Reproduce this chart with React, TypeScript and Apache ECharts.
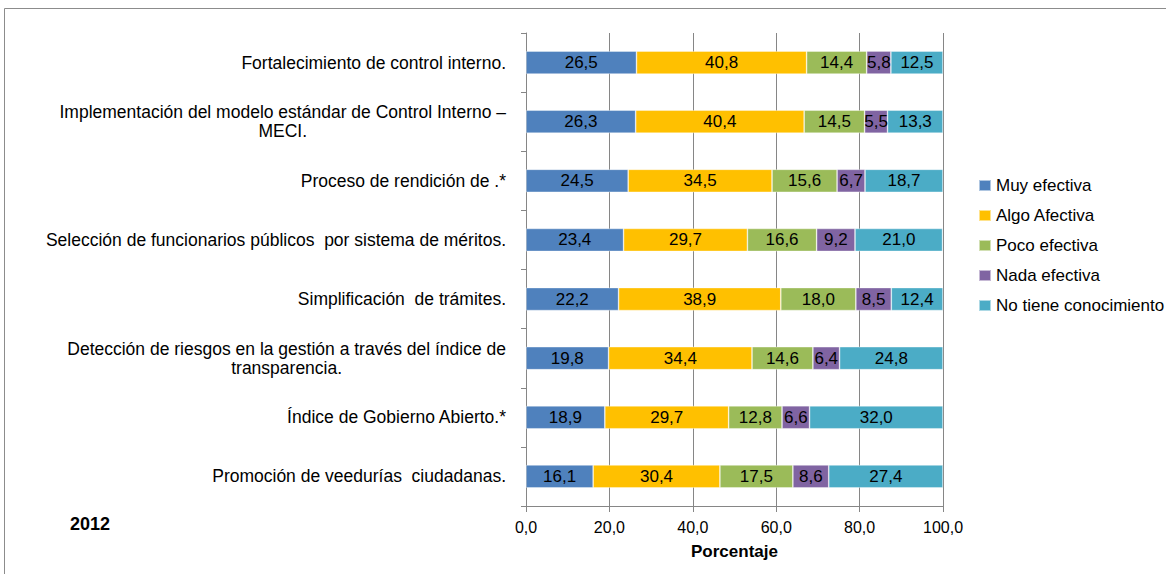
import React, { useEffect, useRef } from "react";
import * as echarts from "echarts";

const categories = [
  "Fortalecimiento de control interno.",
  "Implementación del modelo estándar de Control Interno –\nMECI.",
  "Proceso de rendición de .*",
  "Selección de funcionarios públicos  por sistema de méritos.",
  "Simplificación  de trámites.",
  "Detección de riesgos en la gestión a través del índice de\ntransparencia.",
  "Índice de Gobierno Abierto.*",
  "Promoción de veedurías  ciudadanas.",
];

const seriesNames = [
  "Muy efectiva",
  "Algo Afectiva",
  "Poco efectiva",
  "Nada efectiva",
  "No tiene conocimiento",
];

const muyEfectiva = [26.5, 26.3, 24.5, 23.4, 22.2, 19.8, 18.9, 16.1];
const algoAfectiva = [40.8, 40.4, 34.5, 29.7, 38.9, 34.4, 29.7, 30.4];
const pocoEfectiva = [14.4, 14.5, 15.6, 16.6, 18.0, 14.6, 12.8, 17.5];
const nadaEfectiva = [5.8, 5.5, 6.7, 9.2, 8.5, 6.4, 6.6, 8.6];
const noConocimiento = [12.5, 13.3, 18.7, 21.0, 12.4, 24.8, 32.0, 27.4];

const seriesValues = [muyEfectiva, algoAfectiva, pocoEfectiva, nadaEfectiva, noConocimiento];
const colors = ["#4F81BD", "#FFC000", "#9BBB59", "#8064A2", "#4BACC6"];

const FONT = "Liberation Sans, Arial, sans-serif";
const CAT_SIZE = 17.5;

const fmt = (v: number) => v.toFixed(1).replace(".", ",");

export default function App() {
  const ref = useRef<HTMLDivElement>(null);
  useEffect(() => {
    if (!ref.current) return;
    const chart = echarts.init(ref.current, undefined, { renderer: "svg" });
    const option: any = {
      animation: false,
      backgroundColor: "#ffffff",
      textStyle: { fontFamily: FONT },
      graphic: [
        {
          type: "rect",
          shape: { x: 4.5, y: 8.5, width: 1300, height: 700 },
          style: { fill: "none", stroke: "#8c8c8c", lineWidth: 1 },
          silent: true,
        },
        {
          type: "text",
          left: -1,
          top: -14,
          style: { text: "Fuente: DANE. EDID 2011", fontSize: 17, fontFamily: FONT, fill: "#000" },
        },
        {
          type: "text",
          left: 70,
          top: 515,
          style: { text: "2012", fontSize: 18, fontWeight: "bold", fontFamily: FONT, fill: "#000" },
        },
      ],
      legend: {
        orient: "vertical",
        left: 978,
        top: 177,
        padding: 0,
        itemWidth: 12,
        itemHeight: 11,
        itemGap: 13,
        icon: "rect",
        textStyle: { fontSize: 17, color: "#000", fontFamily: FONT },
        data: seriesNames,
      },
      grid: { left: 526, right: 223, top: 33, bottom: 68, containLabel: false },
      xAxis: {
        type: "value",
        min: 0,
        max: 100,
        interval: 20,
        name: "Porcentaje",
        nameLocation: "middle",
        nameGap: 37,
        nameTextStyle: { fontSize: 17, fontWeight: "bold", color: "#000", fontFamily: FONT },
        axisLine: { show: true, lineStyle: { color: "#868686" } },
        axisTick: { show: true, length: 6, lineStyle: { color: "#868686" } },
        splitLine: { show: true, lineStyle: { color: "#868686", width: 1 } },
        axisLabel: { formatter: fmt, fontSize: 16, color: "#000", margin: 13, fontFamily: FONT },
      },
      yAxis: {
        type: "category",
        inverse: true,
        data: categories,
        axisLine: { show: true, lineStyle: { color: "#868686" } },
        axisTick: { show: true, length: 5, alignWithLabel: false, lineStyle: { color: "#868686" } },
        axisLabel: {
          fontSize: CAT_SIZE,
          color: "#000",
          margin: 20,
          lineHeight: 19,
          fontFamily: FONT,
          formatter: (v: string) =>
            v.includes("\n")
              ? v
                  .split("\n")
                  .map((l) => `{c|${l}}`)
                  .join("\n")
              : v,
          rich: {
            c: {
              align: "center",
              fontSize: CAT_SIZE,
              lineHeight: 19,
              color: "#000",
              fontFamily: FONT,
            },
          },
        },
      },
      series: seriesNames.map((name, i) => ({
        name,
        type: "bar",
        stack: "total",
        barWidth: 23,
        data: seriesValues[i],
        itemStyle: { color: colors[i], borderColor: "rgba(255,255,255,0.55)", borderWidth: 0.7 },
        label: {
          show: true,
          position: "inside",
          color: "#000",
          fontSize: 17,
          fontFamily: FONT,
          formatter: (p: any) => fmt(p.value),
        },
      })),
    };
    chart.setOption(option);
    return () => chart.dispose();
  }, []);
  return (
    <div
      ref={ref}
      style={{ position: "fixed", left: 0, top: 0, width: 1166, height: 574, background: "#fff" }}
    />
  );
}
